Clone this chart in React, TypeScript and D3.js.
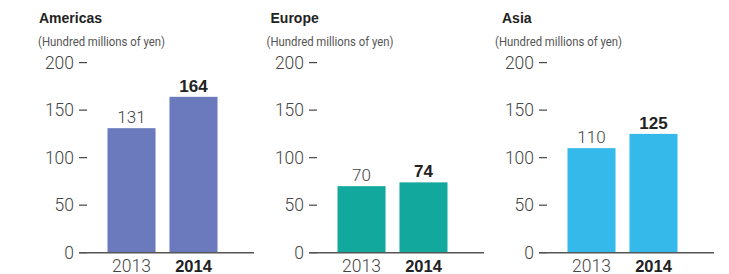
import React from "react";
import * as d3 from "d3";

const regions = ["Americas", "Europe", "Asia"];
const years = ["2013", "2014"];
const values2013 = [131, 70, 110];
const values2014 = [164, 74, 125];
const yTicks = [0, 50, 100, 150, 200];
const unitLabel = "(Hundred millions of yen)";
const colors = ["#6b7abd", "#12a89d", "#34b9ea"];

const W = 729;
const H = 274;
const LIGHT = "Roboto, 'Liberation Sans', sans-serif";
const BOLD = "'Liberation Sans', Arial, sans-serif";

export default function App() {
  const y = d3.scaleLinear().domain([0, 200]).range([252.7, 62.6]);
  return (
    <svg
      width={W}
      height={H}
      style={{ position: "absolute", left: 0, top: 0, background: "#fff" }}
    >
      {regions.map((name, i) => {
        const x0 = 79 + i * 230;
        const x = d3
          .scaleBand()
          .domain(years)
          .range([x0 + 28.5, x0 + 28.5 + 110])
          .paddingInner(0.225)
          .paddingOuter(0);
        const vals = [values2013[i], values2014[i]];
        return (
          <g key={name}>
            <text
              x={x0 - 40 + i * 1.5}
              y={23.3}
              fontFamily={BOLD}
              fontWeight="bold"
              fontSize={14}
              fill="#222"
            >
              {name}
            </text>
            <text
              x={x0 - 41 - i * 1.5}
              y={46}
              fontFamily={LIGHT}
              fontWeight={400}
              fontSize={12.5}
              fill="#555"
              textLength={127}
              lengthAdjust="spacingAndGlyphs"
            >
              {unitLabel}
            </text>
            {yTicks.map((t) => (
              <g key={t}>
                <line
                  x1={x0}
                  x2={x0 + 8}
                  y1={y(t)}
                  y2={y(t)}
                  stroke="#444"
                  strokeWidth={1.2}
                />
                <text
                  x={x0 - 5}
                  y={y(t)}
                  dy="0.36em"
                  textAnchor="end"
                  fontFamily={LIGHT}
                  fontWeight={300}
                  fontSize={17.5}
                  fill="#444"
                >
                  {t}
                </text>
              </g>
            ))}
            {vals.map((v, j) => (
              <rect
                key={j}
                x={x(years[j])}
                y={y(v)}
                width={x.bandwidth()}
                height={y(0) - y(v)}
                fill={colors[i]}
              />
            ))}
            <line
              x1={x0}
              x2={x0 + 175}
              y1={y(0)}
              y2={y(0)}
              stroke="#555"
              strokeWidth={1.4}
            />
            {vals.map((v, j) => (
              <text
                key={"v" + j}
                x={(x(years[j]) as number) + x.bandwidth() / 2}
                y={y(v) - 5}
                textAnchor="middle"
                fontFamily={j === 1 ? BOLD : LIGHT}
                fontWeight={j === 1 ? "bold" : 300}
                fontSize={17}
                fill={j === 1 ? "#222" : "#444"}
              >
                {v}
              </text>
            ))}
            {years.map((yr, j) => (
              <text
                key={yr}
                x={(x(yr) as number) + x.bandwidth() / 2}
                y={271.5}
                textAnchor="middle"
                fontFamily={j === 1 ? BOLD : LIGHT}
                fontWeight={j === 1 ? "bold" : 300}
                fontSize={j === 1 ? 16.5 : 17.5}
                fill={j === 1 ? "#222" : "#444"}
              >
                {yr}
              </text>
            ))}
          </g>
        );
      })}
    </svg>
  );
}
